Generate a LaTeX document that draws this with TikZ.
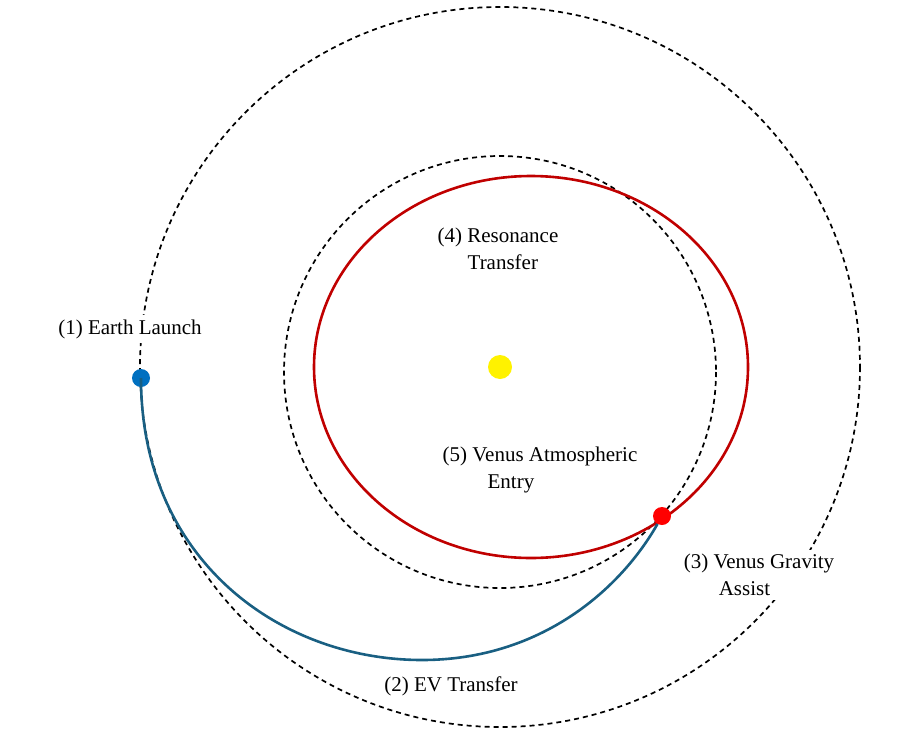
\documentclass[tikz,border=0pt]{standalone}
\usepackage{fontspec}
\setmainfont{Liberation Serif}
\usepackage{tikz}
\usetikzlibrary{positioning}
\definecolor{orbitred}{RGB}{192,0,0}
\definecolor{transferblue}{RGB}{25,95,130}
\definecolor{earthblue}{RGB}{0,112,192}

\begin{document}
\begin{tikzpicture}[x=1pt, y=-1pt,
      % Define styles
      orbit/.style={dash pattern=on 5pt off 4pt, line width=1.7pt, black},
      body/.style={circle, inner sep=0pt, minimum size=#1},
      label/.style={fill=white, inner sep=4pt, align=left, font=\fontsize{21}{27}\selectfont}
    ]
    \useasboundingbox (0,0) rectangle (905,755);

    % Orbits
    \draw[orbit] (500,367) circle (360);
    \draw[orbit] (500,372) circle (216);
    \draw[orbitred, line width=2.6pt] (531,367) ellipse (217 and 191);

    % Bodies
    \node[body=24pt, fill=yellow] (sun) at (500,367) {};
    \node[body=18pt, fill=earthblue] (earth) at (141,378) {};
    \node[body=18pt, fill=red] (venus) at (662,516) {};

    % EV transfer
    \draw[transferblue, line width=2.6pt] (earth.center) .. controls (141,560) and (280,660) .. (422,660)
      .. controls (540,660) and (620,590) .. (venus);

    % Annotations
    \node[label] (launch) at (130,329) {(1) Earth Launch};
    \node[label] (ev) at (451,686) {(2) EV Transfer};
    \node[label] (assist) at (759,575) {(3) Venus Gravity\\\hspace*{35pt}Assist};
    \node[label] (resonance) at (498,249) {(4) Resonance\\\hspace*{30pt}Transfer};
    \node[label] (entry) at (540,470) {(5) Venus Atmospheric\\\hspace*{45pt}Entry};

  \end{tikzpicture}
\end{document}
